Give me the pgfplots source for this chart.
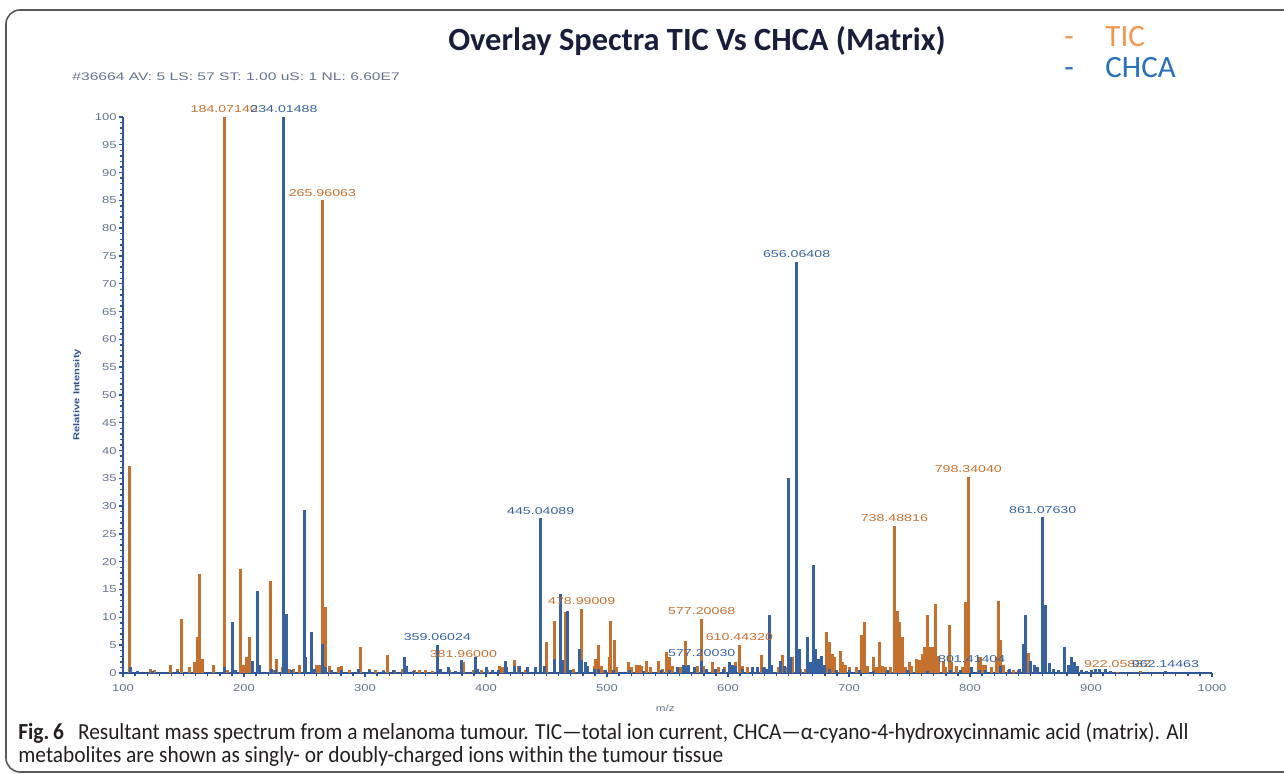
\documentclass[border=0pt]{standalone}
\usepackage{pgfplots}
\usepackage{pgfplotstable}
\pgfplotsset{compat=1.18}
\usepackage{fontspec}
\setmainfont{Carlito}
\newfontfamily\tickfont[FakeStretch=1.3]{Liberation Sans}
\newfontfamily\labfont[FakeStretch=1.42]{Liberation Sans}
\newfontfamily\capfont[FakeStretch=0.93]{Carlito}

\definecolor{ticO}{RGB}{198,112,46}
\definecolor{chcaB}{RGB}{55,98,160}
\definecolor{axisB}{RGB}{46,84,150}
\definecolor{tickG}{RGB}{100,115,145}
\definecolor{ticL}{RGB}{243,150,80}
\definecolor{chcaL}{RGB}{40,112,190}
\definecolor{titleC}{RGB}{25,30,60}
\definecolor{capC}{RGB}{35,31,32}

\pgfplotstableread{
m y
105 37.3
123 0.7
126 0.6
139 1.4
145 0.8
148 9.8
155 1.1
159 1.9
161.4 6.5
163.6 17.8
165.8 2.6
175 1.4
183.7 100
186 0.5
197.2 18.7
199.4 1.5
202.2 2.8
204.4 6.4
206.5 1.5
222 16.6
224.8 0.5
227 2.6
231.7 1.1
238 0.7
241 0.7
245.5 1.4
260 1.4
262.5 1.4
264.8 85
267 11.9
271 1.2
278 1.1
280.5 1.3
287 0.6
296.4 4.6
303.6 0.8
309 0.5
315 0.5
318.7 3.2
324 0.5
331 0.8
334.5 0.8
341 0.5
345 0.5
350 0.5
356 0.4
362 0.5
370 0.5
381.3 2.0
390 0.5
396 0.6
401 0.5
411 1.3
414 1.0
423.4 2.3
426.7 1.2
433 0.5
449.6 5.5
456.2 9.4
465.3 10.9
472 0.8
479.1 11.5
484 0.8
489.5 1.3
490.6 2.6
492.8 5.0
495.6 1.2
498 0.6
501.7 2.8
503.3 9.4
505.8 6.0
508 1.0
517.6 1.9
520 1.0
524 1.4
526.7 1.4
528.6 1.3
532.8 2.2
536 1.0
542.4 2.2
546 0.8
549.3 3.8
551.5 2.9
554 1.2
558 1.0
561 1.0
565 5.8
567 1.3
574.6 1.2
578.3 9.7
580 1.2
586.8 1.9
592 1.0
597 1.0
601 1.0
605.8 1.9
609.4 5.0
612 1.2
616 1.0
620 1.0
624 1.0
627.8 3.3
630 1.0
642 1.0
645.1 3.3
648 1.0
653.3 2.8
660 0.8
664 0.8
675 1.0
681.6 7.3
683.7 5.6
686.5 3.5
688.4 2.9
692.6 4.0
694.5 2.0
697 1.5
700 1.0
706.4 1.0
710.5 6.9
712.7 9.1
715 1.3
720.1 2.8
722.5 1.0
725.1 5.5
727.5 1.2
730 1.0
734 1.0
737.5 26.4
740 11.2
742.1 9.1
744 6.5
746.5 1.0
749.9 1.9
752 1.2
755.4 2.6
758.1 2.4
760.9 3.5
762.5 4.6
764.7 10.4
767 4.6
768.8 4.6
771.6 12.4
774 3.0
777.9 2.2
780 1.0
782.9 8.6
785 2.0
789 1.2
793.5 1.0
795.9 12.8
798.6 35.3
801 1.0
806.9 2.9
809 2.9
811 1.5
813 1.5
818 1.0
822 2.9
823.4 13.0
825.4 6.0
828 1.5
832 0.5
836 0.5
840 0.5
848.2 3.6
850.4 1.9
853 0.5
922 0.2
941 0.3
}\ticdata

\pgfplotstableread{
m y
106 1.1
112 0.4
124 0.3
145 0.4
183.7 1.1
190.6 9.1
193 0.5
206.9 2.2
211 14.8
213.2 1.4
222.8 0.7
226 0.6
233 100
235.3 10.7
239 0.5
249.6 29.3
251.2 2.8
256 7.3
258 0.8
265 5.3
267.5 1.0
272 0.5
280.7 0.5
294.5 0.7
304 0.5
315 0.3
323.4 0.6
332.5 2.8
334.5 1.2
340 0.4
359.8 5.0
362 0.8
368.9 1.1
375 0.4
380 2.4
391 2.8
393 0.8
400 1.0
405 0.6
410 0.5
415.7 2.2
417 1.0
423.4 1.2
428 1.2
434.2 1.1
441 1.0
445.2 27.8
448 1.2
456.2 2.6
461.2 14.2
463.4 2.4
467.5 11.2
470 0.6
476.9 4.3
479.1 2.4
482 2.0
484 1.3
490 0.8
493 0.8
499 0.5
505 0.5
519 0.5
530 0.4
545 0.5
552 0.6
558 1.0
563 1.5
565.8 1.2
567.2 1.4
572 1.0
578.3 2.2
582 0.8
590 0.8
596 0.8
601.6 1.9
603.5 1.5
605.8 1.2
612 0.8
620 1.0
624 1.0
629.2 1.1
631.4 0.8
634.1 10.4
636 1.5
643 2.2
647.1 1.2
649.8 35
652 2.8
656.7 74
658.7 4.4
665.8 6.4
667.8 2.0
670.5 19.4
672.5 4.3
674.5 2.5
677.4 3.0
680 1.5
684 0.8
690 0.6
700 0.5
709 0.5
720 0.4
732 0.5
748 0.5
765 0.4
784 0.5
792 0.6
801.4 1.1
808 0.6
813 0.6
824.8 1.3
833 0.7
841.3 0.7
844.1 5.3
846 10.4
849.6 2.2
852.9 1.5
855.6 1.0
860.1 28
862.6 12.3
866.1 1.8
869 0.7
873 0.5
877.7 4.6
881.2 1.5
884 2.8
886 2.0
888.7 1.2
892 0.6
896 0.4
900 0.5
903.3 0.7
907.4 0.8
911.6 0.8
916 0.3
935 0.2
961.5 0.3
}\chcadata

\pgfplotstableread{
m y lab
183.7 100 184.07140
264.8 85 265.96063
381.3 2.0 381.96000
479.1 11.5 478.99009
578.3 9.7 577.20068
609.4 5.0 610.44320
737.5 26.4 738.48816
798.6 35.3 798.34040
922 0.2 922.05832
}\ticlabels

\pgfplotstableread{
m y lab
233 100 234.01488
359.8 5.0 359.06024
445.2 27.8 445.04089
578.3 2.2 577.20030
656.7 74 656.06408
801.4 1.1 801.41404
860.1 28 861.07630
961.5 0.3 962.14463
}\chcalabels

\begin{document}
\begin{tikzpicture}
\useasboundingbox (0,0) rectangle (642pt,387pt);
\draw[black!65, line width=0.8pt, rounded corners=7pt] (660pt,382pt) -- (3pt,382pt) -- (3pt,1pt) -- (660pt,1pt);

\begin{axis}[
  at={(61.5pt,50.5pt)}, anchor=south west,
  scale only axis, width=544.5pt, height=278pt,
  xmin=100, xmax=1000, ymin=0, ymax=100,
  axis x line*=bottom, axis y line*=left,
  axis line style={-, axisB, line width=1.4pt},
  xtick={100,200,...,1000}, ytick={0,5,...,100},
  minor x tick num=9, minor y tick num=4,
  tick align=outside, major tick length=2.2pt, minor tick length=1.3pt,
  every tick/.style={axisB, line width=0.7pt},
  tick label style={font=\tickfont\fontsize{5}{5}\selectfont, text=tickG},
  yticklabel style={inner sep=0.8pt},
  /pgf/number format/assume math mode=true,
  x tick label style={/pgf/number format/1000 sep={}},
  xlabel={m/z},
  xlabel style={font=\tickfont\fontsize{4.5}{5}\selectfont, text=tickG, at={(axis description cs:0.498,-0.063)}, anchor=center},
  ylabel={Relative Intensity},
  ylabel style={font=\tickfont\bfseries\fontsize{4.3}{5}\selectfont, text=axisB, at={(axis description cs:-0.042,0.5)}, anchor=center},
  clip=false,
]
\addplot[ycomb, ticO, line width=1.5pt, mark=none] table[x=m, y=y] {\ticdata};
\addplot[ycomb, chcaB, line width=1.5pt, mark=none] table[x=m, y=y] {\chcadata};
\addplot[draw=none, mark=none, nodes near coords, point meta=explicit symbolic,
  nodes near coords style={font=\labfont\fontsize{5}{5}\selectfont, text=ticO, anchor=south, inner sep=0.4pt, yshift=1.5pt}]
  table[x=m, y=y, meta=lab] {\ticlabels};
\addplot[draw=none, mark=none, nodes near coords, point meta=explicit symbolic,
  nodes near coords style={font=\labfont\fontsize{5}{5}\selectfont, text=chcaB, anchor=south, inner sep=0.4pt, yshift=1.5pt}]
  table[x=m, y=y, meta=lab] {\chcalabels};
\end{axis}

% header line
\node[anchor=west, inner sep=0, font=\labfont\fontsize{5.5}{6}\selectfont, text=tickG] at (36pt,348.5pt) {\#36664 AV: 5 LS: 57 ST: 1.00 uS: 1 NL: 6.60E7};
% title
\node[anchor=center, inner sep=0, font=\bfseries\fontsize{16.2}{17}\selectfont, text=titleC] at (348.5pt,366.5pt) {Overlay Spectra TIC Vs CHCA (Matrix)};
% legend
\node[anchor=base west, inner sep=0, font=\fontsize{15.5}{16}\selectfont, text=ticL] at (532pt,363.5pt) {-};
\node[anchor=base west, inner sep=0, font=\fontsize{15.5}{16}\selectfont, text=ticL] at (552.5pt,363.5pt) {TIC};
\node[anchor=base west, inner sep=0, font=\fontsize{15.5}{16}\selectfont, text=chcaL] at (532pt,348pt) {-};
\node[anchor=base west, inner sep=0, font=\fontsize{15.5}{16}\selectfont, text=chcaL] at (552.5pt,348pt) {CHCA};
% caption
\node[anchor=base west, inner sep=0, font=\capfont\fontsize{11.5}{13}\selectfont, text=capC] at (9pt,17pt) {{\bfseries Fig.\,6}\hspace{7pt}Resultant mass spectrum from a melanoma tumour. TIC—total ion current, CHCA—α-cyano-4-hydroxycinnamic acid (matrix). All};
\node[anchor=base west, inner sep=0, font=\capfont\fontsize{11.5}{13}\selectfont, text=capC] at (9pt,5.5pt) {metabolites are shown as singly- or doubly-charged ions within the tumour tissue};
\end{tikzpicture}
\end{document}
